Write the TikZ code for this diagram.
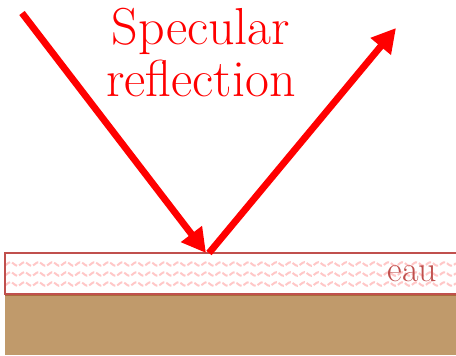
\documentclass[tikz,border=0pt]{standalone}
\usepackage{xcolor}
\usepackage{tikz}
\usetikzlibrary{calc,positioning,arrows.meta}

\definecolor{rayred}{HTML}{FF0000}
\definecolor{waterline}{HTML}{C0504D}
\definecolor{ground}{HTML}{C09A6B}
\definecolor{groundline}{HTML}{A86B3A}

\begin{document}
\begin{tikzpicture}[x=0.5pt, y=-0.5pt,
        ray/.style={draw=rayred, line width=3.4pt,
          -{Triangle[length=12pt, width=12.5pt]}},
        title/.style={text=rayred, align=center,
          font=\fontsize{26}{26}\selectfont, inner sep=0pt},
        wave/.style={draw=red!22, line width=1pt, dash pattern=on 3pt off 1pt},
      ]
      \useasboundingbox (0,0) rectangle (456,355);
      % ground and water layer
      \fill[ground] (5,295) rectangle (456,355);
      \draw[groundline, line width=1pt] (5,295) -- (456,295);
      \begin{scope}
        \clip (5,253) rectangle (456,294);
        \foreach \r in {264,274,284}
          \draw[wave] plot[domain=5:456, samples=260] (\x, {\r + 1.8*sin(360*(\x/14))});
      \end{scope}
      \draw[waterline, line width=0.8pt] (458,253) -- (5,253) -- (5,294) -- (458,294);
      \node[text=waterline, font=\fontsize{18}{18}\selectfont, anchor=base east]
        (water) at (444,281) {eau};

      \node[title] (lbl) at (201,53) {Specular\\reflection};

      \coordinate (src) at (22,13);
      \coordinate (hit) at (206,253);
      \coordinate (out) at (209,253);
      \coordinate (dst) at (396,28);
      \draw[ray] (src) -- (hit);
      \draw[ray] (out) -- (dst);
    \end{tikzpicture}
\end{document}
